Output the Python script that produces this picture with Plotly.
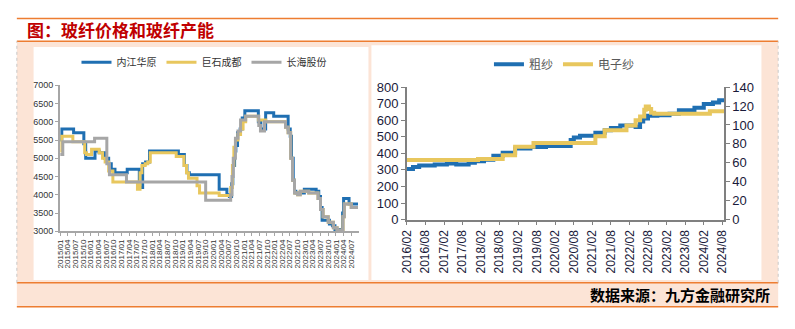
import plotly.graph_objects as go

W, H = 795, 329

# ---------------- Left chart: glass fibre prices (yuan/t) ----------------
nj_dates = ["2015-01-01","2015-01-20","2015-06-10","2015-10-10","2015-11-01","2016-02-20","2016-04-10",
            "2016-06-15","2016-08-01","2016-09-01","2016-10-15","2017-03-10","2017-08-01","2017-09-10",
            "2017-10-15","2017-12-01","2018-11-10","2019-01-20","2019-02-20","2019-03-20","2020-03-10",
            "2020-06-10","2020-07-10","2020-08-05","2020-08-20","2020-09-10","2020-09-25","2020-10-15",
            "2020-11-15","2020-12-10","2021-01-10","2021-06-20","2021-07-20","2021-09-15","2021-12-20",
            "2022-06-10","2022-07-05","2022-07-20","2022-08-10","2022-08-25","2022-09-10","2022-12-20",
            "2023-05-10","2023-06-10","2023-07-01","2023-07-20","2023-10-15","2023-11-20","2023-12-20",
            "2024-03-20","2024-04-01","2024-06-05","2024-09-20"]
nj_vals = [5500,5800,5700,5400,5000,5200,5150,
           5000,4850,4700,4600,4700,4200,4850,
           4900,5200,5100,4800,4600,4550,4150,
           4000,3950,4300,4800,5200,5350,5700,
           5800,6100,6300,6000,5800,6250,6150,
           5800,5600,5000,4400,4100,4050,4150,
           4100,3950,3650,3300,3200,3150,3050,
           3500,3900,3750,3750]

js_dates = ["2015-01-01","2015-01-20","2015-06-01","2015-10-20","2015-11-10","2016-01-10","2016-04-10",
            "2016-05-20","2016-06-20","2016-08-01","2016-09-20","2017-07-10","2017-08-10","2017-09-01",
            "2017-10-10","2017-11-10","2017-12-10","2018-10-15","2019-01-15","2019-02-15","2019-03-10",
            "2019-06-20","2019-07-20","2020-03-10","2020-07-25","2020-08-15","2020-09-01","2020-09-20",
            "2020-10-20","2020-11-20","2020-12-20","2021-01-20","2021-06-20","2021-09-15","2022-05-10",
            "2022-06-10","2022-07-10","2022-08-01","2022-08-25","2022-10-01","2022-11-01","2023-02-10",
            "2023-06-01","2023-07-01","2023-08-01","2023-10-01","2023-12-01","2024-01-15","2024-03-25",
            "2024-04-10","2024-07-01","2024-09-20"]
js_vals = [5200,5600,5450,5150,5100,5250,5150,
           5000,4900,4650,4350,4150,4600,4800,
           4850,4900,5150,5050,4800,4600,4450,
           4250,4050,3980,4200,4800,5300,5500,
           5650,5800,6000,6150,6050,6000,5850,
           5700,5000,4400,4050,4000,4100,4050,
           3900,3600,3400,3250,3100,3030,3400,
           3750,3650,3650]

ch_dates = ["2015-01-01","2015-02-01","2016-02-15","2016-07-10","2016-08-10","2017-03-01","2019-10-01",
            "2020-07-25","2020-08-10","2020-08-25","2020-09-20","2020-10-20","2020-11-20","2021-01-20",
            "2021-06-25","2021-07-15","2021-09-01","2022-05-10","2022-06-10","2022-07-10","2022-08-01",
            "2022-08-25","2022-10-01","2022-11-01","2023-02-10","2023-06-01","2023-07-01","2023-08-01",
            "2023-10-01","2023-12-01","2024-01-15","2024-03-25","2024-04-10","2024-07-01","2024-09-20"]
ch_vals = [5100,5450,5550,4850,4550,4350,3850,
           4000,4500,5000,5550,5750,6050,6150,
           5900,5750,6000,5850,5700,5000,4400,
           4050,4000,4100,4050,3900,3600,3400,
           3250,3100,3030,3400,3750,3650,3650]

# ---------------- Right chart: roving / electronic yarn capacity ----------------
cs_dates = ["2016-02-01","2016-04-01","2016-06-01","2016-11-01","2017-03-01","2017-06-01","2017-10-01",
            "2017-12-01","2018-03-01","2018-06-01","2018-09-01","2019-01-01","2019-06-01","2019-11-01",
            "2020-07-01","2020-08-01","2020-10-01","2021-03-01","2021-06-01","2021-08-01","2021-11-01",
            "2022-04-01","2022-05-15","2022-06-15","2022-08-01","2022-11-01","2023-03-01","2023-06-01",
            "2023-11-01","2024-02-01","2024-05-01","2024-07-01","2024-08-18"]
cs_vals = [305,318,326,333,338,333,343,
           352,362,385,404,429,438,444,
           481,496,506,525,540,554,569,
           560,592,611,627,631,640,660,
           675,698,708,721,721]

dz_dates = ["2016-02-01","2018-01-01","2018-09-01","2019-01-01","2019-07-01","2021-03-01","2021-06-01",
            "2022-01-01","2022-04-01","2022-05-15","2022-06-25","2022-07-10","2022-08-10","2022-09-01",
            "2022-10-01","2024-04-01","2024-08-18"]
dz_vals = [63,64,68,77,81,88,94.5,
           99.5,105,109,116,119.5,117,113,
           112,114.5,114.5]

left_tick0, left_end = "2015-01-01", "2024-09-27"
right_tick0, right_end = "2016-02-01", "2024-08-18"

C_BLUE = "#1f6fb2"
C_YEL = "#e8c75e"
C_GRAY = "#a6a6a6"
ORANGE = "#ed7d31"
PEACH = "#fce4d6"

fig = go.Figure()

fig.add_trace(go.Scatter(x=nj_dates, y=nj_vals, name="内江华原", mode="lines", line=dict(color=C_BLUE, width=3, shape="hv"),
                         xaxis="x", yaxis="y", legend="legend"))
fig.add_trace(go.Scatter(x=js_dates, y=js_vals, name="巨石成都", mode="lines", line=dict(color=C_YEL, width=3, shape="hv"),
                         xaxis="x", yaxis="y", legend="legend"))
fig.add_trace(go.Scatter(x=ch_dates, y=ch_vals, name="长海股份", mode="lines", line=dict(color=C_GRAY, width=3, shape="hv"),
                         xaxis="x", yaxis="y", legend="legend"))

fig.add_trace(go.Scatter(x=cs_dates, y=cs_vals, name="粗纱", mode="lines", line=dict(color=C_BLUE, width=4, shape="hv"),
                         xaxis="x2", yaxis="y2", legend="legend2"))
fig.add_trace(go.Scatter(x=dz_dates, y=dz_vals, name="电子纱", mode="lines", line=dict(color=C_YEL, width=4, shape="hv"),
                         xaxis="x2", yaxis="y3", legend="legend2"))

def px(x): return x / W
def py(y): return 1 - y / H

shapes = [
    dict(type="rect", xref="paper", yref="paper", x0=px(10), x1=px(783), y0=py(314), y1=py(36),
         fillcolor=PEACH, line=dict(width=0), layer="below"),
    dict(type="rect", xref="paper", yref="paper", x0=px(27), x1=px(367), y0=py(286), y1=py(42),
         fillcolor="white", line=dict(width=0), layer="below"),
    dict(type="rect", xref="paper", yref="paper", x0=px(370), x1=px(766), y0=py(286), y1=py(40),
         fillcolor="white", line=dict(width=0), layer="below"),
]
for yy in (12, 36, 289, 314):
    shapes.append(dict(type="line", xref="paper", yref="paper", x0=px(10), x1=px(783), y0=py(yy), y1=py(yy),
                       line=dict(color=ORANGE, width=1.5), layer="below"))
for xx in (10, 783):
    shapes.append(dict(type="line", xref="paper", yref="paper", x0=px(xx), x1=px(xx), y0=py(289), y1=py(36),
                       line=dict(color="#c8c8c8", width=1, dash="dot"), layer="below"))

TICKC = "#1a1a3a"
fig.update_layout(
    width=W, height=H, margin=dict(l=0, r=0, t=0, b=0),
    paper_bgcolor="white", plot_bgcolor="rgba(0,0,0,0)",
    shapes=shapes,
    xaxis=dict(domain=[px(54), px(357)], anchor="y", type="date", range=[left_tick0, left_end],
               tick0=left_tick0, dtick="M3", tickformat="%Y/%m", tickangle=-90,
               tickfont=dict(family="Arial", size=8, color="#333333"),
               showline=True, linecolor=C_GRAY, linewidth=2, ticks="outside", ticklen=3, tickcolor=C_GRAY,
               showgrid=False, zeroline=False),
    yaxis=dict(domain=[py(235), py(82)], anchor="x", range=[3000, 7000], dtick=500,
               tickfont=dict(family="Arial", size=9, color="#333333"),
               showline=True, linecolor=C_GRAY, linewidth=2, ticks="outside", ticklen=3, tickcolor=C_GRAY,
               showgrid=False, zeroline=False),
    xaxis2=dict(domain=[px(406), px(728)], anchor="y2", type="date", range=[right_tick0, right_end],
                tick0=right_tick0, dtick="M6", tickformat="%Y/%m", tickangle=-90,
                tickfont=dict(family="Arial", size=12, color=TICKC),
                showline=True, linecolor="#808080", linewidth=1.5, ticks="outside", ticklen=4, tickcolor="#808080",
                showgrid=False, zeroline=False),
    yaxis2=dict(domain=[py(222.7), py(84)], anchor="x2", range=[0, 800], dtick=100,
                tickfont=dict(family="Arial", size=13, color=TICKC),
                showline=True, linecolor="#808080", linewidth=1.5, ticks="outside", ticklen=4, tickcolor="#808080",
                showgrid=False, zeroline=False),
    yaxis3=dict(domain=[py(222.7), py(84)], anchor="x2", overlaying="y2", side="right", range=[0, 140], dtick=20,
                tickfont=dict(family="Arial", size=13, color=TICKC),
                showline=True, linecolor="#808080", linewidth=1.5, ticks="outside", ticklen=4, tickcolor="#808080",
                showgrid=False, zeroline=False),
    legend=dict(orientation="h", x=px(200), y=py(58), xanchor="center", yanchor="middle",
                bgcolor="rgba(0,0,0,0)", font=dict(family="Noto Sans CJK SC", size=10, color="#333333"),
                itemwidth=30, tracegroupgap=0),
    legend2=dict(orientation="h", x=px(566), y=py(60), xanchor="center", yanchor="middle",
                 bgcolor="rgba(0,0,0,0)", font=dict(family="Noto Sans CJK SC", size=12, color="#595959"),
                 itemwidth=30),
    annotations=[
        dict(text="<b>图：玻纤价格和玻纤产能</b>", xref="paper", yref="paper", x=px(18), y=py(24),
             xanchor="left", yanchor="middle", showarrow=False,
             font=dict(family="Noto Sans CJK SC", size=17, color="#c00000")),
        dict(text="<b>数据来源：九方金融研究所</b>", xref="paper", yref="paper", x=px(777), y=py(301),
             xanchor="right", yanchor="middle", showarrow=False,
             font=dict(family="Noto Sans CJK SC", size=15, color="#000000")),
    ],
)

fig.write_html("out.html")
